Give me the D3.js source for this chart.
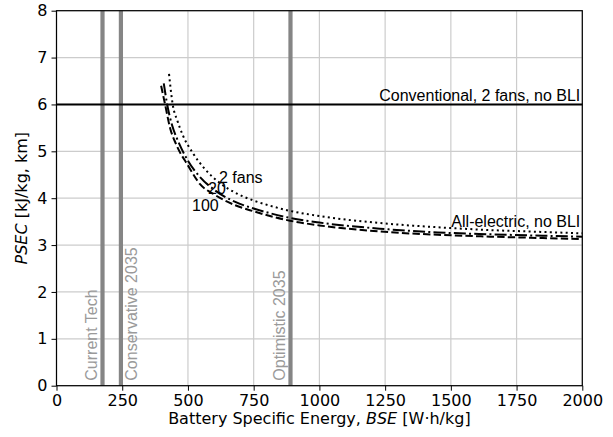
<!DOCTYPE html>
<html>
<head>
<meta charset="utf-8">
<script src="https://cdn.jsdelivr.net/npm/d3@7"></script>
<style>
  body { margin: 0; background: #fff; }
  svg { display: block; }
  .tick text { font-family: "DejaVu Sans", sans-serif; font-size: 16px; fill: #000; }
  .anno { font-family: "Liberation Sans", Arial, sans-serif; font-size: 16px; }
</style>
</head>
<body>
<svg id="chart" width="613" height="437"></svg>
<script>
// PSEC vs battery specific energy.

const xTicks = [0, 250, 500, 750, 1000, 1250, 1500, 1750, 2000];
const yTicks = [0, 1, 2, 3, 4, 5, 6, 7, 8];

// Technology levels (vertical markers), W·h/kg
const techNames = ["Current Tech", "Conservative 2035", "Optimistic 2035"];
const techBSE   = [175, 245, 890];
// which side of its marker each label sits on (-1 left, +1 right)
const techSide  = [-1, 1, -1];

// Conventional baseline PSEC
const conventionalPSEC = 6.0;

// All-electric curves (BSE, PSEC)
const bse2fans  = [428, 442, 460, 480, 520, 565, 620, 686, 750, 812, 888, 1000, 1230, 1450, 1650, 1850, 2000];
const psec2fans = [6.65, 6.0, 5.65, 5.35, 4.95, 4.62, 4.33, 4.10, 3.95, 3.84, 3.73, 3.62, 3.47, 3.38, 3.32, 3.28, 3.25];

const bse20fans  = [408, 421, 440, 460, 500, 546, 600, 680, 750, 812, 888, 1000, 1230, 1450, 1650, 1850, 2000];
const psec20fans = [6.45, 6.0, 5.55, 5.25, 4.80, 4.45, 4.18, 3.92, 3.78, 3.68, 3.58, 3.48, 3.35, 3.27, 3.23, 3.20, 3.18];

const bse100fans  = [398, 413, 432, 455, 500, 546, 600, 680, 750, 812, 888, 1000, 1230, 1450, 1650, 1850, 2000];
const psec100fans = [6.40, 6.0, 5.50, 5.15, 4.70, 4.30, 4.08, 3.85, 3.72, 3.62, 3.52, 3.42, 3.29, 3.22, 3.18, 3.15, 3.13];

const svg = d3.select("#chart");
const m = { left: 56.5, right: 582.3, top: 10.7, bottom: 385.7 };

const x = d3.scaleLinear().domain([0, 2000]).range([m.left, m.right]);
const y = d3.scaleLinear().domain([0, 8]).range([m.bottom, m.top]);

// grid
svg.append("g")
  .selectAll("line.gx").data(xTicks).enter().append("line")
  .attr("x1", d => x(d)).attr("x2", d => x(d))
  .attr("y1", m.top).attr("y2", m.bottom)
  .attr("stroke", "#cccccc").attr("stroke-width", 1.2);
svg.append("g")
  .selectAll("line.gy").data(yTicks).enter().append("line")
  .attr("x1", m.left).attr("x2", m.right)
  .attr("y1", d => y(d)).attr("y2", d => y(d))
  .attr("stroke", "#cccccc").attr("stroke-width", 1.2);

// technology markers
svg.append("g")
  .selectAll("line").data(techBSE).enter().append("line")
  .attr("x1", d => x(d)).attr("x2", d => x(d))
  .attr("y1", m.top).attr("y2", m.bottom)
  .attr("stroke", "#858585").attr("stroke-width", 4.2);

// rotated labels: baseline sits on the right of the glyphs
svg.append("g")
  .selectAll("text").data(techNames).enter().append("text")
  .attr("class", "anno")
  .attr("transform", (d, i) => {
    const bx = techSide[i] < 0 ? x(techBSE[i]) - 5.5 : x(techBSE[i]) + 16.5;
    return `translate(${bx},${m.bottom - 5}) rotate(-90)`;
  })
  .attr("fill", "#9a9a9a")
  .text(d => d);

// conventional line
svg.append("line")
  .attr("x1", m.left).attr("x2", m.right)
  .attr("y1", y(conventionalPSEC)).attr("y2", y(conventionalPSEC))
  .attr("stroke", "#000").attr("stroke-width", 2);

svg.append("text").attr("class", "anno")
  .attr("x", m.right - 2).attr("y", y(conventionalPSEC) - 3)
  .attr("text-anchor", "end")
  .text("Conventional, 2 fans, no BLI");

// curves
const line = d3.line()
  .x(d => x(d[0])).y(d => y(d[1]))
  .curve(d3.curveMonotoneX);

const series = [
  { bse: bse2fans,   psec: psec2fans,   dash: "2,3.3" },
  { bse: bse20fans,  psec: psec20fans,  dash: "12,3.2,2,3.2" },
  { bse: bse100fans, psec: psec100fans, dash: "7.4,3.2" },
];
svg.append("g")
  .selectAll("path").data(series).enter().append("path")
  .attr("fill", "none")
  .attr("stroke", "#000")
  .attr("stroke-width", 2)
  .attr("stroke-dasharray", d => d.dash)
  .attr("d", d => line(d.bse.map((b, i) => [b, d.psec[i]])));

// curve labels
svg.append("text").attr("class", "anno")
  .attr("x", m.right - 2).attr("y", 226.5)
  .attr("text-anchor", "end")
  .text("All-electric, no BLI");
svg.append("text").attr("class", "anno").attr("x", 219).attr("y", 183).text("2 fans");
svg.append("text").attr("class", "anno").attr("x", 208).attr("y", 194).text("20");
svg.append("text").attr("class", "anno").attr("x", 192).attr("y", 211).text("100");

// axes
const xAxis = d3.axisBottom(x).tickValues(xTicks).tickSize(5).tickPadding(4).tickFormat(d3.format("d"));
const yAxis = d3.axisLeft(y).tickValues(yTicks).tickSize(5).tickPadding(4).tickFormat(d3.format("d"));

svg.append("g").attr("transform", `translate(0,${m.bottom})`).call(xAxis)
  .call(g => g.select(".domain").remove());
svg.append("g").attr("transform", `translate(${m.left},0)`).call(yAxis)
  .call(g => g.select(".domain").remove());
svg.selectAll(".tick line").attr("stroke", "#000").attr("stroke-width", 1);

// frame
svg.append("rect")
  .attr("x", m.left).attr("y", m.top)
  .attr("width", m.right - m.left).attr("height", m.bottom - m.top)
  .attr("fill", "none").attr("stroke", "#000").attr("stroke-width", 1.2);

// axis titles
const xt = svg.append("text")
  .attr("x", (m.left + m.right) / 2).attr("y", 424)
  .attr("text-anchor", "middle")
  .style("font-family", "DejaVu Sans, sans-serif").style("font-size", "16px");
xt.append("tspan").text("Battery Specific Energy, ");
xt.append("tspan").style("font-style", "italic").text("BSE");
xt.append("tspan").text(" [W·h/kg]");

const yt = svg.append("text")
  .attr("transform", `translate(27,${(m.top + m.bottom) / 2}) rotate(-90)`)
  .attr("text-anchor", "middle")
  .style("font-family", "DejaVu Sans, sans-serif").style("font-size", "16px");
yt.append("tspan").style("font-style", "italic").text("PSEC");
yt.append("tspan").text(" [kJ/kg, km]");
</script>
</body>
</html>
